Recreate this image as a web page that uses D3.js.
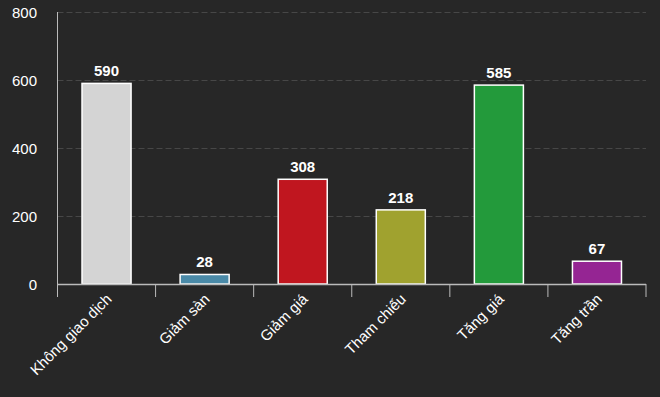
<!DOCTYPE html>
<html><head><meta charset="utf-8">
<script src="https://cdn.jsdelivr.net/npm/d3@7"></script>
<style>
html,body{margin:0;padding:0;background:#272727;}
svg{display:block;font-family:"Liberation Sans",Arial,Helvetica,sans-serif;}
</style></head>
<body>
<svg id="chart" width="660" height="397"></svg>
<script>
const categories = ["Không giao dịch","Giảm sàn","Giảm giá","Tham chiếu","Tăng giá","Tăng trần"];
const values = [590, 28, 308, 218, 585, 67];
const colors = ["#d4d4d4","#4a8aa8","#c0161f","#a0a22f","#239a3b","#952593"];
const yTicks = [0,200,400,600,800];

const svg = d3.select("#chart");
svg.append("rect").attr("width",660).attr("height",397).attr("fill","#272727");
const pLeft = 57.5, pRight = 646, pTop = 12, pBottom = 284;

const x = d3.scaleBand().domain(categories).range([pLeft,pRight]).paddingInner(0.5).paddingOuter(0.25);
const y = d3.scaleLinear().domain([0,800]).range([pBottom,pTop]);

// gridlines
svg.append("g").selectAll("line").data(yTicks.filter(d=>d>0)).join("line")
  .attr("x1",pLeft).attr("x2",pRight)
  .attr("y1",d=>y(d)+0.5).attr("y2",d=>y(d)+0.5)
  .attr("stroke","#474747").attr("stroke-width",1).attr("stroke-dasharray","6,3");

// y labels
svg.append("g").selectAll("text").data(yTicks).join("text")
  .attr("x",37).attr("y",d=>y(d)+5.5)
  .attr("text-anchor","end").attr("fill","#ffffff").attr("font-size",15)
  .text(d=>d);

// left axis line
svg.append("line").attr("x1",pLeft).attr("x2",pLeft).attr("y1",pTop).attr("y2",pBottom)
  .attr("stroke","#bbbbbb").attr("stroke-width",1);

// bars
svg.append("g").selectAll("rect").data(categories).join("rect")
  .attr("x",d=>x(d)).attr("width",x.bandwidth())
  .attr("y",(d,i)=>y(values[i])).attr("height",(d,i)=>pBottom-y(values[i]))
  .attr("fill",(d,i)=>colors[i]).attr("stroke","#ffffff").attr("stroke-width",1.5);

// value labels
svg.append("g").selectAll("text").data(categories).join("text")
  .attr("x",d=>x(d)+x.bandwidth()/2).attr("y",(d,i)=>y(values[i])-7)
  .attr("text-anchor","middle").attr("fill","#ffffff").attr("font-size",15).attr("font-weight","bold")
  .text((d,i)=>values[i]);

// bottom axis
const edges = d3.range(categories.length+1).map(i=>pLeft + i*(pRight-pLeft)/categories.length);
svg.append("line").attr("x1",pLeft).attr("x2",pRight).attr("y1",pBottom+0.5).attr("y2",pBottom+0.5)
  .attr("stroke","#bbbbbb").attr("stroke-width",1.5);
svg.append("g").selectAll("line").data(edges).join("line")
  .attr("x1",d=>d).attr("x2",d=>d).attr("y1",pBottom).attr("y2",pBottom+13)
  .attr("stroke","#bbbbbb").attr("stroke-width",1);

// category labels
svg.append("g").selectAll("text").data(categories).join("text")
  .attr("transform",d=>`translate(${x(d)+x.bandwidth()/2+6},${pBottom+16}) rotate(-45)`)
  .attr("text-anchor","end").attr("fill","#ffffff").attr("font-size",15)
  .text(d=>d);
</script>
</body></html>
